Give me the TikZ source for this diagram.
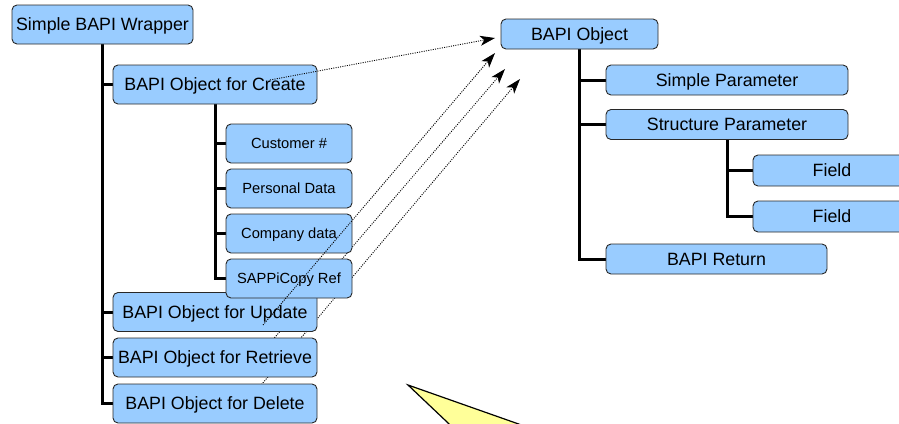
\documentclass[tikz,border=0pt]{standalone}
\usepackage{fontspec}
\setmainfont{Liberation Sans}
\usetikzlibrary{arrows.meta,backgrounds}
\definecolor{boxblue}{RGB}{153,204,255}
\definecolor{boxline}{RGB}{40,40,40}
\definecolor{calloutyellow}{RGB}{255,255,153}
\begin{document}
\begin{tikzpicture}[x=1pt,y=-1pt,
  box/.style={draw=boxline,line width=0.9pt,fill=boxblue,rounded corners=5pt,inner sep=0pt,
    font=\fontsize{17.8}{20}\selectfont,text height=12.8pt,text depth=0pt},
  smallbox/.style={box,font=\fontsize{14.7}{17}\selectfont,text height=10.6pt,
    minimum width=126pt,minimum height=39pt},
  bigbox/.style={box,minimum width=204pt,minimum height=39pt},
  rbox/.style={box,minimum height=30pt},
  trunk/.style={line width=3pt,black},
  refarrow/.style={dash pattern=on 1pt off 1.3pt,line width=0.9pt,black,
    -{Stealth[length=15pt,width=10pt,inset=4pt]}}]
\useasboundingbox (0,0) rectangle (899,423);
\clip (0,0) rectangle (899,423);
% named end points of the dotted connectors
\coordinate (sC) at (270,80);
\coordinate (sU) at (263,325);
\coordinate (sR) at (258,357);
\coordinate (sD) at (245,404);
\coordinate (t1) at (495,38);
\coordinate (t2) at (495,53);
\coordinate (t3) at (505,69);
\coordinate (t4) at (520,79);
% left tree
\node[box,minimum width=181pt,minimum height=39pt] (wrap) at (102.5,24.5) {Simple BAPI Wrapper};
\node[bigbox] (create) at (215,84.5) {BAPI Object for Create};
\node[smallbox] (cust) at (289,143.5) {Customer \#};
\node[smallbox] (pers) at (289,188.5) {Personal Data};
\node[smallbox] (comp) at (289,233.5) {Company data};
\node[bigbox] (update) at (215,312) {BAPI Object for Update};
\node[bigbox] (retrieve) at (215,357.5) {BAPI Object for Retrieve};
\node[bigbox] (delete) at (215,403.5) {BAPI Object for Delete};
\node[smallbox] (sappi) at (289,278.5) {SAPPiCopy Ref};
% right tree
\node[rbox,minimum width=157pt] (bobj) at (579.5,34) {BAPI Object};
\node[rbox,minimum width=242pt] (simple) at (727,80) {Simple Parameter};
\node[rbox,minimum width=242pt] (struct) at (727,124.5) {Structure Parameter};
\node[rbox,minimum width=158pt,minimum height=31pt] (field1) at (832,170.5) {Field};
\node[rbox,minimum width=158pt,minimum height=31pt] (field2) at (832,216.5) {Field};
\node[rbox,minimum width=221pt] (ret) at (716.5,259) {BAPI Return};
\begin{pgfonlayer}{background}
  % connectors drawn behind the boxes
  \draw[refarrow] (sR) -- (t3);
  \draw[refarrow] (sD) -- (t4);
  % callout pointer
  \path[draw=black,line width=1.2pt,fill=calloutyellow] (408,385) -- (564,440) -- (466,440) -- cycle;
  % trunks and stubs
  \draw[trunk] (wrap.south) |- (create.west);
  \draw[trunk] (wrap.south) |- (update.west);
  \draw[trunk] (wrap.south) |- (retrieve.west);
  \draw[trunk] (wrap.south) |- (delete.west);
  \draw[trunk] (create.south) |- (cust.west);
  \draw[trunk] (create.south) |- (pers.west);
  \draw[trunk] (create.south) |- (comp.west);
  \draw[trunk] (create.south) |- (sappi.west);
  \draw[trunk] (bobj.south) |- (simple.west);
  \draw[trunk] (bobj.south) |- (struct.west);
  \draw[trunk] (bobj.south) |- (ret.west);
  \draw[trunk] (struct.south) |- (field1.west);
  \draw[trunk] (struct.south) |- (field2.west);
\end{pgfonlayer}
% connectors drawn over the boxes
\draw[refarrow] (sC) -- (t1);
\draw[refarrow] (sU) -- (t2);
\end{tikzpicture}
\end{document}
